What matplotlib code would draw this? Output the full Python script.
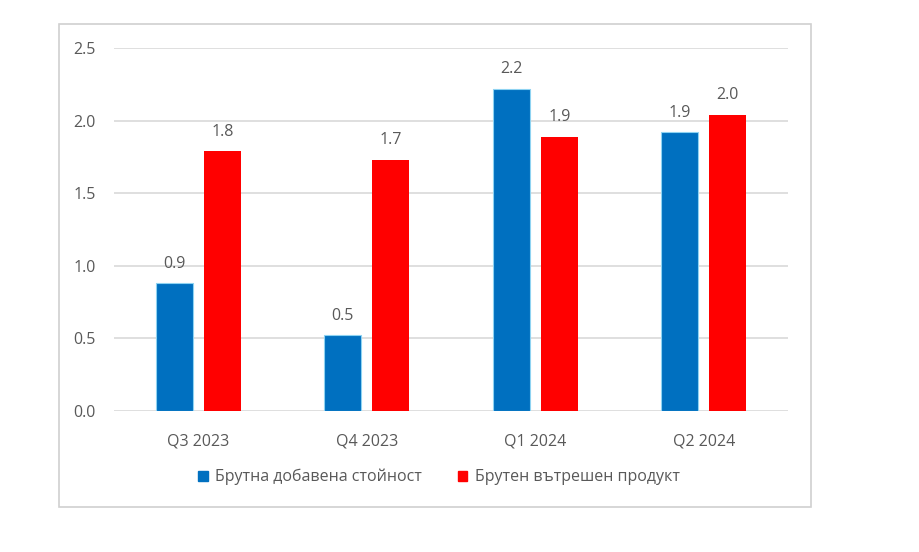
import numpy as np
import matplotlib.pyplot as plt
from matplotlib.patches import Rectangle

# Data
quarters = ["Q3 2023", "Q4 2023", "Q1 2024", "Q2 2024"]
gva = [0.88, 0.52, 2.22, 1.92]
gdp = [1.79, 1.73, 1.89, 2.04]
gva_labels = ["0.9", "0.5", "2.2", "1.9"]
gdp_labels = ["1.8", "1.7", "1.9", "2.0"]
series_names = ["Брутна добавена стойност", "Брутен вътрешен продукт"]

plt.rcParams['font.family'] = ['Open Sans', 'DejaVu Sans']
text_color = "#595959"
blue = "#0070C0"
red = "#FF0000"

fig = plt.figure(figsize=(9.2, 5.52), dpi=100)
fig.patch.set_facecolor("white")

# outer chart frame
fig.patches.append(Rectangle((59 / 920, 1 - 507 / 552), 752 / 920, 483 / 552,
                             transform=fig.transFigure, fill=False,
                             edgecolor="#D0D0D0", linewidth=1.2))

ax = fig.add_axes([114 / 920, 1 - 411 / 552, 674 / 920, 363 / 552])

x = np.arange(len(quarters))
w = 0.22
off = 0.1425
b1 = ax.bar(x - off, gva, w, color=blue, edgecolor="#8ED3F2", linewidth=0.8,
            label=series_names[0], zorder=3)
b2 = ax.bar(x + off, gdp, w, color=red, label=series_names[1], zorder=3)

for rect, lab in zip(b1, gva_labels):
    ax.annotate(lab, (rect.get_x() + rect.get_width() / 2, rect.get_height()),
                xytext=(0, 14), textcoords="offset points", ha="center",
                va="center", fontsize=11.5, color=text_color)
for rect, lab in zip(b2, gdp_labels):
    ax.annotate(lab, (rect.get_x() + rect.get_width() / 2, rect.get_height()),
                xytext=(0, 14), textcoords="offset points", ha="center",
                va="center", fontsize=11.5, color=text_color)

ax.set_xlim(-0.5, len(quarters) - 0.5)
ax.set_ylim(0, 2.5)
ax.set_yticks(np.arange(0, 2.51, 0.5))
ax.set_yticklabels([f"{v:.1f}" for v in np.arange(0, 2.51, 0.5)])
ax.set_xticks(x)
ax.set_xticklabels(quarters)
ax.tick_params(axis="both", length=0, labelsize=11.5, labelcolor=text_color)
ax.tick_params(axis="y", pad=13)
ax.tick_params(axis="x", pad=16)
ax.grid(axis="y", color="#D9D9D9", linewidth=1.2, zorder=0)
for s in ax.spines.values():
    s.set_visible(False)

handles = [Rectangle((0, 0), 1, 1, color=blue), Rectangle((0, 0), 1, 1, color=red)]
fig.legend(handles, series_names, loc="center", ncol=2,
           bbox_to_anchor=(439 / 920, 1 - 477 / 552), frameon=False,
           fontsize=11.5, labelcolor=text_color, handlelength=0.6,
           handleheight=0.6, handletextpad=0.5, columnspacing=2.2)

fig.savefig("out.png", dpi=100, facecolor="white")
